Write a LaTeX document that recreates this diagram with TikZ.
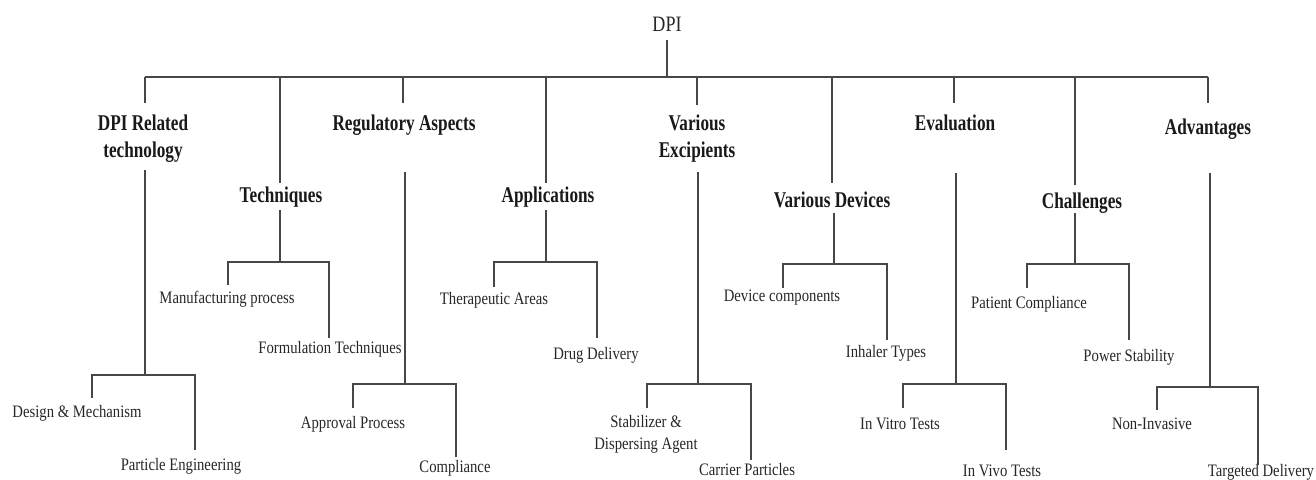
\documentclass[tikz,border=0pt]{standalone}
\usepackage{fontspec}
\setmainfont{Liberation Serif}[FakeStretch=0.84]
\newfontfamily\hdfont{Liberation Serif}[FakeStretch=0.765]
\newfontfamily\rootfont{Liberation Serif}[FakeStretch=0.82]
\begin{document}
\begin{tikzpicture}[x=1pt,y=-1pt,
  conn/.style={draw=black!72, line width=1.5pt},
  lab/.style={font=\fontsize{17.5}{22}\selectfont, text=black!85, inner sep=0pt, anchor=base, align=center},
  hd/.style={font=\hdfont\bfseries\fontsize{22.5}{27}\selectfont, text=black!90, inner sep=0pt, anchor=base, align=center},
  root/.style={font=\rootfont\fontsize{22}{24}\selectfont, text=black!85, inner sep=0pt, anchor=base}]
\useasboundingbox (0,0) rectangle (1316,479);
% root
\node[root] (dpi) at (667,31) {DPI};
\coordinate (busL) at (145,77);
\coordinate (busR) at (1208,77);
\draw[conn] (667,40) -- (667,77);
\draw[conn] (busL) -- (busR);
% level 1 labels
\node[hd] (h1) at (143,157) {DPI Related\\technology};
\node[hd] (h2) at (281,202) {Techniques};
\node[hd] (h3) at (404,130) {Regulatory Aspects};
\node[hd] (h4) at (548,202) {Applications};
\node[hd] (h5) at (697,157) {Various\\Excipients};
\node[hd] (h6) at (832,207) {Various Devices};
\node[hd] (h7) at (955,130) {Evaluation};
\node[hd] (h8) at (1082,208) {Challenges};
\node[hd] (h9) at (1208,134) {Advantages};
% level 2 labels
\node[lab] (c1a) at (77,417) {Design \& Mechanism};
\node[lab] (c1b) at (181,470) {Particle Engineering};
\node[lab] (c2a) at (227,303) {Manufacturing process};
\node[lab] (c2b) at (330,353) {Formulation Techniques};
\node[lab] (c3a) at (353,428) {Approval Process};
\node[lab] (c3b) at (455,472) {Compliance};
\node[lab] (c4a) at (494,304) {Therapeutic Areas};
\node[lab] (c4b) at (596,359) {Drug Delivery};
\node[lab] (c5a) at (646,449) {Stabilizer \&\\Dispersing Agent};
\node[lab] (c5b) at (747,475) {Carrier Particles};
\node[lab] (c6a) at (782,301) {Device components};
\node[lab] (c6b) at (886,357) {Inhaler Types};
\node[lab] (c7a) at (900,429) {In Vitro Tests};
\node[lab] (c7b) at (1002,476) {In Vivo Tests};
\node[lab] (c8a) at (1029,308) {Patient Compliance};
\node[lab] (c8b) at (1129,361) {Power Stability};
\node[lab] (c9a) at (1152,429) {Non-Invasive};
\node[lab] (c9b) at (1261,476) {Targeted Delivery};
% branch 1
\draw[conn] (145,77) -- (145,103);
\draw[conn] (145,170) -- (145,375);
\draw[conn] (92,398) -- (92,375) -- (195,375) -- (195,450);
% branch 2
\draw[conn] (280,77) -- (280,183);
\draw[conn] (280,210) -- (280,262);
\draw[conn] (228,285) -- (228,262) -- (329,262) -- (329,338);
% branch 3
\draw[conn] (403,77) -- (403,103);
\draw[conn] (405,172) -- (405,384);
\draw[conn] (353,408) -- (353,384) -- (456,384) -- (456,457);
% branch 4
\draw[conn] (546,77) -- (546,183);
\draw[conn] (546,210) -- (546,262);
\draw[conn] (494,287) -- (494,262) -- (597,262) -- (597,338);
% branch 5
\draw[conn] (697,77) -- (697,105);
\draw[conn] (698,172) -- (698,384);
\draw[conn] (647,408) -- (647,384) -- (751,384) -- (751,460);
% branch 6
\draw[conn] (832,77) -- (832,183);
\draw[conn] (834,213) -- (834,264);
\draw[conn] (783,288) -- (783,264) -- (887,264) -- (887,340);
% branch 7
\draw[conn] (954,77) -- (954,103);
\draw[conn] (956,173) -- (956,384);
\draw[conn] (903,408) -- (903,384) -- (1006,384) -- (1006,450);
% branch 8
\draw[conn] (1075,77) -- (1075,185);
\draw[conn] (1075,213) -- (1075,264);
\draw[conn] (1027,288) -- (1027,264) -- (1129,264) -- (1129,340);
% branch 9
\draw[conn] (1208,77) -- (1208,103);
\draw[conn] (1210,173) -- (1210,387);
\draw[conn] (1157,410) -- (1157,387) -- (1258,387) -- (1258,465);
\end{tikzpicture}
\end{document}
